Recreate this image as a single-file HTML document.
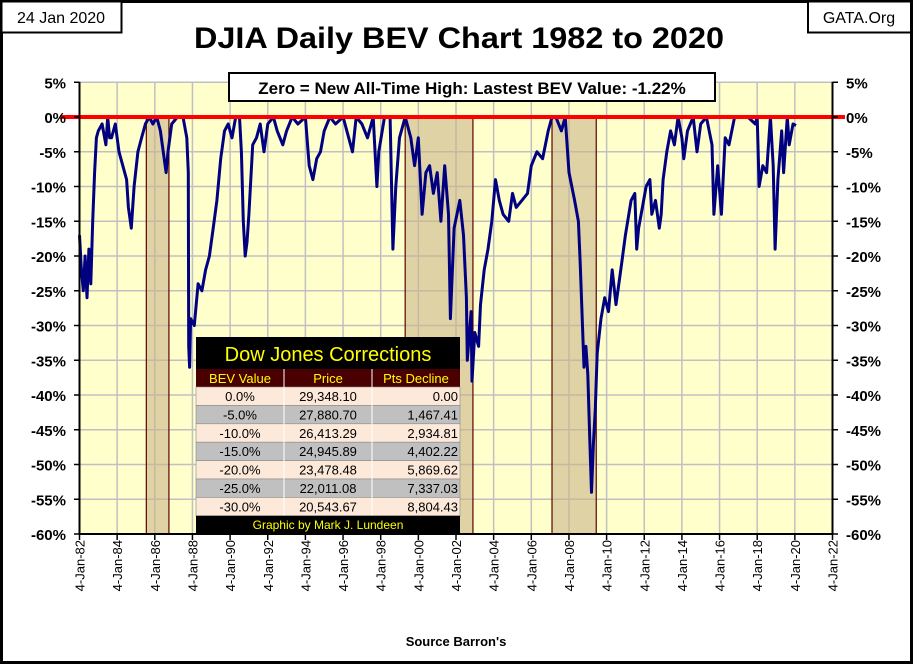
<!DOCTYPE html>
<html><head><meta charset="utf-8"><style>
body{margin:0;background:#fff;}
svg text{font-family:"Liberation Sans",sans-serif;}
</style></head><body>
<svg id="c" width="913" height="664" viewBox="0 0 913 664" xmlns="http://www.w3.org/2000/svg">
<rect x="1.5" y="1.5" width="910" height="661" fill="#fff" stroke="#000" stroke-width="3"/>
<rect x="1.5" y="1.5" width="120" height="31" fill="#fff" stroke="#000" stroke-width="2"/>
<text x="61" y="23" font-size="16" text-anchor="middle">24 Jan 2020</text>
<rect x="808" y="1.5" width="103" height="31" fill="#fff" stroke="#000" stroke-width="2"/>
<text x="859" y="23" font-size="16" text-anchor="middle">GATA.Org</text>
<text x="459" y="48" font-size="30" font-weight="bold" text-anchor="middle" textLength="530" lengthAdjust="spacingAndGlyphs">DJIA Daily BEV Chart 1982 to 2020</text>
<rect x="79.5" y="82" width="753" height="452" fill="#ffffcc"/>
<g id="grid"></g><g id="shade"></g><g id="series"></g>
<line x1="79.5" y1="82" x2="79.5" y2="534" stroke="#000" stroke-width="2"/>
<line x1="832.5" y1="82" x2="832.5" y2="534" stroke="#000" stroke-width="2"/>
<line x1="79.5" y1="534" x2="832.5" y2="534" stroke="#000" stroke-width="2"/>
<g id="axes"></g>
<rect x="229" y="73" width="486" height="28" fill="#fff" stroke="#000" stroke-width="2"/>
<text x="472" y="94" font-size="17" font-weight="bold" text-anchor="middle">Zero = New All-Time High: Lastest BEV Value: -1.22%</text>
<g id="table"></g>
<text x="456" y="646" font-size="13" font-weight="bold" text-anchor="middle">Source Barron's</text>
</svg>
<script>
const years=[1982.0,1982.1,1982.2,1982.3,1982.4,1982.5,1982.6,1982.7,1982.8,1982.9,1983.0,1983.2,1983.4,1983.5,1983.6,1983.7,1983.9,1984.1,1984.3,1984.5,1984.6,1984.75,1984.9,1985.1,1985.3,1985.5,1985.7,1985.9,1986.1,1986.3,1986.5,1986.6,1986.7,1986.9,1987.2,1987.5,1987.7,1987.78,1987.8,1987.85,1987.9,1988.1,1988.3,1988.5,1988.7,1988.9,1989.1,1989.3,1989.5,1989.7,1989.9,1990.1,1990.3,1990.5,1990.6,1990.7,1990.8,1990.9,1991.0,1991.2,1991.4,1991.6,1991.8,1992.0,1992.3,1992.5,1992.8,1993.0,1993.3,1993.6,1994.0,1994.2,1994.4,1994.6,1994.8,1995.0,1995.3,1995.6,1996.0,1996.3,1996.5,1996.7,1997.0,1997.3,1997.6,1997.8,1997.9,1998.2,1998.5,1998.65,1998.8,1999.0,1999.3,1999.6,1999.8,2000.0,2000.2,2000.4,2000.6,2000.8,2001.0,2001.2,2001.4,2001.6,2001.7,2001.9,2002.2,2002.4,2002.55,2002.6,2002.8,2002.85,2003.0,2003.2,2003.3,2003.5,2003.7,2003.9,2004.1,2004.3,2004.5,2004.8,2005.0,2005.2,2005.5,2005.8,2006.0,2006.3,2006.6,2006.9,2007.1,2007.3,2007.6,2007.8,2008.0,2008.3,2008.5,2008.6,2008.8,2008.9,2009.0,2009.1,2009.2,2009.3,2009.4,2009.5,2009.7,2009.9,2010.1,2010.3,2010.5,2010.8,2011.0,2011.3,2011.5,2011.6,2011.7,2011.9,2012.1,2012.3,2012.4,2012.6,2012.8,2012.9,2013.0,2013.2,2013.4,2013.6,2013.8,2014.0,2014.1,2014.3,2014.6,2014.8,2015.0,2015.3,2015.6,2015.7,2015.9,2016.1,2016.3,2016.5,2016.8,2017.0,2017.5,2017.9,2018.0,2018.1,2018.3,2018.5,2018.7,2018.85,2018.95,2019.1,2019.3,2019.4,2019.6,2019.7,2019.9,2020.06];
const bev=[-17,-22,-25,-20,-26,-19,-24,-15,-8,-3,-2,-1,-4,0,-3,-3,-1,-5,-7,-9,-13,-16,-10,-5,-3,-1,0,-1,0,-2,-6,-8,-5,-1,0,0,-3,-8,-33,-36,-29,-30,-24,-25,-22,-20,-16,-12,-6,-2,-1,-3,0,0,-5,-15,-20,-18,-14,-4,-3,-1,-5,-1,0,-2,-4,-2,0,-1,0,-7,-9,-6,-5,-2,0,-1,0,-3,-5,0,-1,-3,0,-10,-5,0,0,-19,-10,-3,0,-3,-7,-3,-14,-8,-7,-11,-8,-15,-7,-14,-29,-16,-12,-17,-26,-35,-28,-38,-31,-33,-27,-22,-19,-15,-9,-12,-14,-15,-11,-13,-12,-11,-7,-5,-6,-2,0,0,-2,0,-8,-12,-15,-21,-36,-33,-37,-46,-54,-47,-42,-34,-29,-26,-28,-22,-27,-21,-17,-12,-11,-19,-16,-13,-10,-9,-14,-12,-16,-14,-9,-5,-2,-4,0,-3,-6,-2,0,-5,-1,0,-4,-14,-7,-14,-3,-4,0,0,0,-1,0,-10,-7,-8,0,-7,-19,-9,-2,-8,0,-4,-1,-1.22];
const yTicks=[5,0,-5,-10,-15,-20,-25,-30,-35,-40,-45,-50,-55,-60];
const xTickYears=[1982,1984,1986,1988,1990,1992,1994,1996,1998,2000,2002,2004,2006,2008,2010,2012,2014,2016,2018,2020,2022];
const xTickLabels=["4-Jan-82","4-Jan-84","4-Jan-86","4-Jan-88","4-Jan-90","4-Jan-92","4-Jan-94","4-Jan-96","4-Jan-98","4-Jan-00","4-Jan-02","4-Jan-04","4-Jan-06","4-Jan-08","4-Jan-10","4-Jan-12","4-Jan-14","4-Jan-16","4-Jan-18","4-Jan-20","4-Jan-22"];
const shadeStart=[1985.55,1999.3,2007.1];
const shadeEnd=[1986.75,2002.9,2009.45];
const tblPct=["0.0%","-5.0%","-10.0%","-15.0%","-20.0%","-25.0%","-30.0%"];
const tblPrice=["29,348.10","27,880.70","26,413.29","24,945.89","23,478.48","22,011.08","20,543.67"];
const tblDecl=["0.00","1,467.41","2,934.81","4,402.22","5,869.62","7,337.03","8,804.43"];

const NS="http://www.w3.org/2000/svg";
const X=y=>79.5+(y-1982)*18.825;
const Y=v=>117-v*6.95;
function mk(tag,attrs,parent,txt){const e=document.createElementNS(NS,tag);for(const k in attrs)e.setAttribute(k,attrs[k]);if(txt!=null)e.textContent=txt;parent.appendChild(e);return e;}
const grid=document.getElementById('grid'),axes=document.getElementById('axes'),shade=document.getElementById('shade'),series=document.getElementById('series'),tbl=document.getElementById('table');
yTicks.forEach(v=>{
  const g=mk('line',{x1:79.5,x2:832.5,y1:Y(v),y2:Y(v),stroke:'#c0c0c0','stroke-width':1.5},grid);
  
  
  const l=mk('text',{x:66,y:Y(v)+6,'font-size':15,'font-weight':'bold','text-anchor':'end'},axes,v+'%');
  
  
  const r=mk('text',{x:846,y:Y(v)+6,'font-size':15,'font-weight':'bold','text-anchor':'start'},axes,v+'%');
  
  
  const t1=mk('line',{x1:74,x2:79.5,y1:Y(v),y2:Y(v),stroke:'#000','stroke-width':1.5},axes);
  
  
  const t2=mk('line',{x1:832.5,x2:838,y1:Y(v),y2:Y(v),stroke:'#000','stroke-width':1.5},axes);
  
  
});
xTickYears.forEach((yr,i)=>{
  const g=mk('line',{x1:X(yr),x2:X(yr),y1:82,y2:534,stroke:'#c0c0c0','stroke-width':1.5},grid);
  
  
  const t=mk('line',{x1:X(yr),x2:X(yr),y1:534,y2:540,stroke:'#000','stroke-width':1.5},axes);
  
  
  const l=mk('text',{x:0,y:0,'font-size':13,'text-anchor':'end',transform:`translate(${X(yr)+5},540) rotate(-90)`},axes,xTickLabels[i]);
  
  
});
shadeStart.forEach((s,i)=>{
  const r=mk('rect',{x:X(s),y:Y(0),width:X(shadeEnd[i])-X(s),height:Y(-60)-Y(0),fill:'#c9b48a','fill-opacity':0.6,stroke:'#600000','stroke-width':1.2},shade);
  
  
});
const pts=years.map((y,i)=>X(y).toFixed(1)+','+Y(bev[i]).toFixed(1)).join(' ');
const pl=mk('polyline',{points:pts,fill:'none',stroke:'#000080','stroke-width':3,'stroke-linejoin':'round'},series);


const zl=mk('line',{x1:60,x2:845,y1:Y(0),y2:Y(0),stroke:'#ff0000','stroke-width':4},series);


// table
const tx=196,ty=337;
const tt=mk('rect',{x:tx,y:ty,width:264,height:32,fill:'#000'},tbl);


const ttx=mk('text',{x:tx+132,y:ty+24,'font-size':20,fill:'#ffff00','text-anchor':'middle'},tbl,'Dow Jones Corrections');


const hy=ty+32;
const hb=mk('rect',{x:tx,y:hy,width:264,height:18,fill:'#4a0000'},tbl);


["BEV Value","Price","Pts Decline"].forEach((h,j)=>{
  const e=mk('text',{x:tx+44+88*j,y:hy+14,'font-size':13,fill:'#ffff00','text-anchor':'middle'},tbl,h);
  
  
});
tblPct.forEach((p,i)=>{
  const ry=hy+18+i*18.4;
  const rb=mk('rect',{x:tx,y:ry,width:264,height:18.4,fill:i%2?'#c0c0c0':'#fde9d9',stroke:'#888','stroke-width':0.6},tbl);
  
  
  const a=mk('text',{x:tx+44,y:ry+14,'font-size':13,'text-anchor':'middle'},tbl,p);
  
  
  const b=mk('text',{x:tx+132,y:ry+14,'font-size':13,'text-anchor':'middle'},tbl,tblPrice[i]);
  
  
  const c=mk('text',{x:tx+262,y:ry+14,'font-size':13,'text-anchor':'end'},tbl,tblDecl[i]);
  
  
});
[1,2].forEach(j=>{
  const l=mk('line',{x1:tx+88*j,x2:tx+88*j,y1:hy,y2:hy+18+7*18.4,stroke:'#fff','stroke-width':1},tbl);
  
  
});
const fy=hy+18+7*18.4;
const fb=mk('rect',{x:tx,y:fy,width:264,height:534-fy,fill:'#000'},tbl);


const ft=mk('text',{x:tx+132,y:fy+13,'font-size':12,fill:'#ffff00','text-anchor':'middle'},tbl,'Graphic by Mark J. Lundeen');


</script>
</body></html>
